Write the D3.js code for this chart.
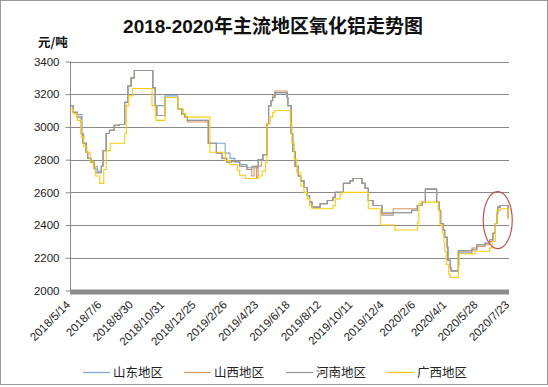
<!DOCTYPE html>
<html><head><meta charset="utf-8">
<script src="https://cdn.jsdelivr.net/npm/d3@7/dist/d3.min.js"></script>
<style>
html,body{margin:0;padding:0;background:#fff;}
svg{display:block;}
</style></head>
<body><svg id="c" width="548" height="387"></svg>
<script>
// ---- data (index = trading-day position, value = 元/吨; each value holds until the next change)
const tickLabels = ["2018/5/14","2018/7/6","2018/8/30","2018/10/31","2018/12/25","2019/2/26","2019/4/23","2019/6/18","2019/8/12","2019/10/11","2019/12/4","2020/2/6","2020/4/1","2020/5/28","2020/7/23"];
const tickStep = 39;
const yTicks = [2000,2200,2400,2600,2800,3000,3200,3400];
const seriesNames = ["山东地区","山西地区","河南地区","广西地区"];

const henan = [[0,3130],[4,3090],[9,3060],[14,2960],[16,2900],[20,2845],[22,2808],[26,2785],[30,2745],[32,2720],[39,2760],[41,2855],[45,2960],[49,2980],[55,3010],[61,3015],[68,3150],[72,3250],[76,3300],[80,3345],[103,3240],[106,3130],[108,3070],[118,3180],[134,3110],[139,3080],[143,3060],[146,3040],[172,2900],[182,2840],[189,2808],[195,2785],[201,2790],[211,2760],[220,2740],[226,2760],[234,2800],[240,2830],[245,3020],[247,3130],[250,3160],[252,3180],[255,3210],[270,3180],[271,3130],[275,2960],[277,2850],[280,2760],[284,2700],[287,2670],[291,2630],[295,2580],[298,2540],[301,2510],[311,2530],[320,2550],[327,2570],[330,2600],[340,2655],[348,2670],[352,2685],[363,2655],[367,2625],[371,2550],[377,2520],[388,2460],[402,2475],[425,2490],[432,2520],[438,2540],[442,2620],[456,2540],[459,2490],[461,2410],[464,2370],[466,2325],[469,2265],[470,2185],[473,2140],[474,2120],[483,2245],[500,2260],[506,2280],[516,2290],[522,2310],[526,2350],[529,2410],[531,2470],[532,2510],[535,2520],[545,2445],[546,2445]];

const shanxi = [[0,3130],[4,3090],[9,3060],[14,2960],[16,2900],[20,2845],[22,2808],[26,2785],[30,2745],[32,2720],[39,2760],[41,2855],[45,2960],[49,2980],[55,3010],[61,3015],[68,3150],[72,3250],[76,3300],[80,3345],[103,3240],[106,3130],[108,3070],[118,3180],[134,3110],[139,3080],[143,3060],[146,3030],[172,2900],[182,2840],[189,2808],[195,2785],[201,2790],[211,2760],[220,2740],[226,2700],[229,2760],[232,2690],[234,2760],[238,2800],[240,2830],[245,3020],[247,3130],[250,3160],[252,3190],[255,3220],[270,3180],[271,3130],[275,2960],[277,2850],[280,2760],[284,2700],[287,2670],[291,2630],[295,2580],[298,2540],[301,2510],[311,2530],[320,2550],[327,2570],[330,2600],[340,2655],[348,2670],[352,2685],[363,2655],[367,2625],[371,2550],[377,2520],[388,2470],[402,2500],[425,2500],[432,2520],[438,2540],[442,2620],[456,2540],[459,2490],[461,2410],[464,2370],[466,2325],[469,2265],[470,2185],[473,2140],[474,2120],[483,2240],[500,2250],[506,2270],[516,2280],[522,2300],[526,2350],[529,2410],[531,2470],[532,2510],[535,2520],[545,2445],[546,2445]];

const shandong = [[0,3130],[4,3090],[9,3075],[15,2960],[17,2900],[20,2845],[22,2808],[26,2785],[30,2760],[34,2730],[39,2760],[41,2855],[45,2960],[49,2980],[55,3010],[61,3015],[68,3150],[72,3250],[76,3300],[80,3345],[103,3240],[106,3130],[118,3190],[134,3110],[139,3080],[143,3060],[146,3040],[172,2900],[193,2840],[199,2808],[205,2785],[211,2770],[220,2750],[234,2800],[240,2830],[245,3020],[247,3130],[250,3160],[252,3180],[255,3210],[270,3180],[271,3130],[275,2960],[277,2850],[280,2760],[284,2700],[287,2670],[291,2630],[295,2580],[298,2540],[301,2510],[311,2530],[320,2550],[327,2570],[330,2600],[340,2655],[348,2670],[352,2685],[363,2655],[367,2625],[371,2550],[377,2520],[388,2475],[402,2475],[425,2490],[432,2520],[438,2540],[442,2620],[456,2540],[459,2490],[461,2410],[464,2370],[466,2325],[469,2265],[470,2185],[473,2140],[474,2120],[483,2230],[500,2250],[506,2280],[516,2290],[522,2310],[526,2350],[529,2410],[531,2470],[532,2510],[535,2520],[545,2445],[546,2445]];

const guangxi = [[0,3110],[4,3080],[9,3040],[14,2940],[17,2880],[21,2845],[25,2790],[29,2760],[32,2700],[37,2655],[42,2740],[45,2855],[50,2900],[68,2960],[70,3130],[73,3190],[78,3235],[102,3130],[106,3060],[107,3040],[118,3180],[134,3110],[141,3080],[144,3060],[174,2845],[193,2795],[199,2770],[208,2735],[211,2705],[218,2685],[234,2700],[239,2730],[243,2780],[245,3020],[249,3060],[252,3090],[255,3100],[271,3100],[274,3020],[276,2900],[279,2800],[282,2720],[287,2640],[291,2600],[295,2560],[298,2520],[301,2500],[327,2520],[330,2560],[336,2590],[338,2600],[371,2500],[386,2400],[404,2370],[432,2415],[434,2530],[437,2540],[458,2490],[460,2400],[463,2350],[465,2300],[466,2240],[468,2160],[471,2100],[473,2080],[483,2150],[484,2225],[504,2240],[522,2260],[525,2300],[529,2410],[531,2490],[535,2500],[545,2440],[546,2440]];

const seriesData = [shandong, shanxi, henan, guangxi];
const colors = ["#7aa6da","#d39660","#979797","#f9cb10"];

// ---- drawing
const svg = d3.select("#c");
const W = 548, H = 387;
const plot = {left:70, right:509, top:61.5, bottom:290.5};

svg.append("rect").attr("x",0.5).attr("y",0.5).attr("width",W-1).attr("height",384)
  .attr("fill","#fff").attr("stroke","#9a9a9a").attr("stroke-width",1);

const x = d3.scaleLinear().domain([0, tickStep*(tickLabels.length-1)]).range([plot.left, plot.right]);
const y = d3.scaleLinear().domain([2000,3400]).range([plot.bottom, plot.top]);

// gridlines
svg.append("g").selectAll("line").data(yTicks.filter(v=>v>2000)).join("line")
  .attr("x1",plot.left).attr("x2",plot.right)
  .attr("y1",d=>Math.round(y(d))+0.5).attr("y2",d=>Math.round(y(d))+0.5)
  .attr("stroke","#8a8a8a").attr("stroke-width",1);

// y axis
const yAxis = d3.axisLeft(y).tickValues(yTicks).tickSize(5).tickPadding(6).tickFormat(d3.format("d"));
const gy = svg.append("g").attr("transform",`translate(${plot.left+0.5},0)`).call(yAxis);
gy.select(".domain").attr("stroke","#8a8a8a").attr("d",`M0,${plot.top}V${plot.bottom}`);
gy.selectAll(".tick line").attr("stroke","#8a8a8a");
gy.selectAll(".tick text").attr("font-family","Liberation Sans, Arial, sans-serif").attr("font-size","11.5px").attr("fill","#222");

// series lines
const line = d3.line().x(d=>x(d[0])).y(d=>y(d[1])).curve(d3.curveStepAfter);
svg.append("g").selectAll("path").data(seriesData).join("path")
  .attr("d",line).attr("fill","none")
  .attr("stroke",(d,i)=>colors[i]).attr("stroke-width",1.1);

// thick x axis bar
svg.append("rect").attr("x",plot.left).attr("y",plot.bottom-1).attr("width",plot.right-plot.left).attr("height",5)
  .attr("fill","#8c8c8c");

// x labels
const xTickIdx = tickLabels.map((t,i)=>i*tickStep);
svg.append("g").selectAll("text").data(tickLabels).join("text")
  .attr("transform",(d,i)=>`translate(${x(xTickIdx[i])+1},${plot.bottom+15}) rotate(-45)`)
  .attr("text-anchor","end")
  .attr("font-family","Liberation Sans, Arial, sans-serif").attr("font-size","11.5px").attr("fill","#222")
  .text(d=>d);

// title and unit
svg.append("text").attr("x",273).attr("y",33).attr("text-anchor","middle")
  .attr("font-family","Liberation Sans, Noto Sans CJK SC, sans-serif").attr("font-weight","bold").attr("font-size","19px").attr("fill","#111")
  .text("2018-2020年主流地区氧化铝走势图");
svg.append("text").attr("x",38).attr("y",47)
  .attr("font-family","Noto Sans CJK SC, sans-serif").attr("font-weight","bold").attr("font-size","12.5px").attr("fill","#111")
  .text("元/吨");

// annotation ellipse
svg.append("ellipse").attr("cx",x(532)).attr("cy",y(2430)).attr("rx",14.5).attr("ry",28.5)
  .attr("fill","none").attr("stroke","#c0504d").attr("stroke-width",1.2);

// legend
const legX = [83,184,286,387];
const lg = svg.append("g").selectAll("g").data(seriesNames).join("g")
  .attr("transform",(d,i)=>`translate(${legX[i]},372)`);
lg.append("line").attr("x1",0).attr("x2",27).attr("y1",0.5).attr("y2",0.5)
  .attr("stroke",(d,i)=>colors[i]).attr("stroke-width",1.2);
lg.append("text").attr("x",30).attr("y",5).attr("font-family","Noto Sans CJK SC, sans-serif").attr("font-size","12.5px").attr("fill","#222")
  .text(d=>d);
</script></body></html>
